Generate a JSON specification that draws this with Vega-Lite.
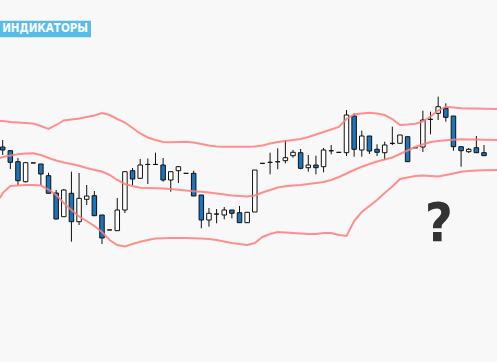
{
  "$schema": "https://vega.github.io/schema/vega-lite/v6.json",
  "width": 497,
  "height": 362,
  "autosize": {"type": "none"},
  "padding": 0,
  "background": "#f8f8f8",
  "config": {"view": {"stroke": null}},
  "datasets": {
    "candles": [
      {"t":0,"o":215,"c":212,"h":222,"l":207},
      {"t":1,"o":211.3,"c":199.7,"h":212,"l":193},
      {"t":2,"o":200.3,"c":181.3,"h":204,"l":177},
      {"t":3,"o":180.3,"c":199.3,"h":200,"l":179.5},
      {"t":4,"o":199.1,"c":199,"h":199.1,"l":199},
      {"t":5,"o":198,"c":188,"h":198,"l":177},
      {"t":6,"o":186.3,"c":168.7,"h":189.3,"l":168.7},
      {"t":7,"o":169,"c":143,"h":172,"l":142.5},
      {"t":8,"o":145.3,"c":172,"h":173,"l":145},
      {"t":9,"o":168.7,"c":140.3,"h":190.3,"l":120.3},
      {"t":10,"o":140.3,"c":163.7,"h":189,"l":137},
      {"t":11,"o":162.7,"c":166,"h":177,"l":157},
      {"t":12,"o":166.3,"c":146.3,"h":171,"l":146},
      {"t":13,"o":147,"c":124,"h":147,"l":118},
      {"t":14,"o":132.1,"c":132,"h":132.1,"l":132},
      {"t":15,"o":131.3,"c":152,"h":164,"l":131.3},
      {"t":16,"o":152,"c":190.3,"h":190.3,"l":149},
      {"t":17,"o":191.3,"c":183,"h":194,"l":177},
      {"t":18,"o":183.7,"c":197,"h":203,"l":183},
      {"t":19,"o":197.6,"c":197.5,"h":203.5,"l":178},
      {"t":20,"o":197.6,"c":197.5,"h":209.3,"l":197.5},
      {"t":21,"o":197,"c":182,"h":204,"l":180.3},
      {"t":22,"o":182,"c":190.3,"h":190.3,"l":170.3},
      {"t":23,"o":191.3,"c":195.3,"h":196,"l":179},
      {"t":24,"o":188.7,"c":188.6,"h":188.7,"l":188.6},
      {"t":25,"o":188.7,"c":166,"h":191.3,"l":166},
      {"t":26,"o":167,"c":142,"h":167,"l":133.7},
      {"t":27,"o":142,"c":148.7,"h":154,"l":135.3},
      {"t":28,"o":148,"c":147.9,"h":153,"l":138.7},
      {"t":29,"o":147,"c":152,"h":155,"l":142.7},
      {"t":30,"o":152,"c":148.7,"h":152,"l":143.7},
      {"t":31,"o":149.3,"c":139.3,"h":156,"l":139.3},
      {"t":32,"o":139.3,"c":149.7,"h":149.7,"l":139.3},
      {"t":33,"o":150,"c":192,"h":192,"l":150},
      {"t":34,"o":198.7,"c":198.6,"h":198.7,"l":198.6},
      {"t":35,"o":199.7,"c":199.6,"h":209.3,"l":187.7},
      {"t":36,"o":200.3,"c":200.2,"h":213.7,"l":192.7},
      {"t":37,"o":201.3,"c":204.3,"h":222,"l":198.7},
      {"t":38,"o":206.3,"c":209.7,"h":212,"l":204.3},
      {"t":39,"o":209.3,"c":193.7,"h":213,"l":192.7},
      {"t":40,"o":194.3,"c":197,"h":207,"l":190.3},
      {"t":41,"o":197,"c":194.3,"h":206.3,"l":187.7},
      {"t":42,"o":195.3,"c":212,"h":214,"l":189.7},
      {"t":43,"o":211.3,"c":211.2,"h":217,"l":207.7},
      {"t":44,"o":209.7,"c":209.6,"h":209.7,"l":209.6},
      {"t":45,"o":209.3,"c":247,"h":252,"l":206},
      {"t":46,"o":246,"c":212.7,"h":248.7,"l":205.3},
      {"t":47,"o":212,"c":226,"h":231.3,"l":205.3},
      {"t":48,"o":226,"c":211,"h":226,"l":208},
      {"t":49,"o":212.7,"c":209.7,"h":217.7,"l":206},
      {"t":50,"o":209.3,"c":217,"h":220.3,"l":202},
      {"t":51,"o":218.7,"c":218.6,"h":235.3,"l":217},
      {"t":52,"o":218.7,"c":227,"h":227,"l":218.7},
      {"t":53,"o":225.3,"c":200.3,"h":225.3,"l":200.3},
      {"t":54,"o":214.3,"c":214.2,"h":214.3,"l":214.2},
      {"t":55,"o":215,"c":242,"h":251.3,"l":210},
      {"t":56,"o":242.7,"c":242.6,"h":250.3,"l":227.7},
      {"t":57,"o":248.7,"c":255.3,"h":265.3,"l":242},
      {"t":58,"o":253.7,"c":244.7,"h":258.7,"l":240.3},
      {"t":59,"o":246,"c":215.3,"h":246,"l":211.3},
      {"t":60,"o":215.3,"c":211.3,"h":215.3,"l":195.3},
      {"t":61,"o":210.3,"c":212.7,"h":214,"l":209},
      {"t":62,"o":214.3,"c":209.3,"h":226,"l":209.3},
      {"t":63,"o":209.3,"c":206.3,"h":217,"l":206.3}
    ],
    "bands": [
      {"t":-0.35,"up":241,"mid":204,"lo":164},
      {"t":0,"up":241,"mid":205,"lo":169},
      {"t":1,"up":240,"mid":206.5,"lo":176},
      {"t":2,"up":239.5,"mid":207.7,"lo":176.5},
      {"t":3,"up":239,"mid":208.5,"lo":177},
      {"t":4,"up":238.5,"mid":208.7,"lo":177},
      {"t":5,"up":236,"mid":207,"lo":176.5},
      {"t":6,"up":233,"mid":204,"lo":172.5},
      {"t":7,"up":237,"mid":201.5,"lo":167},
      {"t":8,"up":241.5,"mid":199.5,"lo":159},
      {"t":9,"up":242.5,"mid":198,"lo":152},
      {"t":10,"up":243.5,"mid":196.3,"lo":145.5},
      {"t":11,"up":245,"mid":194,"lo":141},
      {"t":12,"up":246.5,"mid":192,"lo":136},
      {"t":13,"up":249,"mid":190.5,"lo":130},
      {"t":14,"up":247,"mid":187,"lo":122},
      {"t":15,"up":243,"mid":182,"lo":117},
      {"t":16,"up":239.5,"mid":178,"lo":115.5},
      {"t":17,"up":234,"mid":176,"lo":118},
      {"t":18,"up":228.5,"mid":174.3,"lo":120.3},
      {"t":19,"up":224.5,"mid":174,"lo":122},
      {"t":20,"up":222,"mid":173.7,"lo":123.5},
      {"t":21,"up":220,"mid":173.5,"lo":123.7},
      {"t":22,"up":219.7,"mid":173,"lo":124},
      {"t":23,"up":220,"mid":172.3,"lo":124},
      {"t":24,"up":220.3,"mid":171.5,"lo":124},
      {"t":25,"up":219.5,"mid":170.8,"lo":123.8},
      {"t":26,"up":218,"mid":170.2,"lo":123.5},
      {"t":27,"up":216.5,"mid":169.5,"lo":123},
      {"t":28,"up":215.5,"mid":168.5,"lo":122},
      {"t":29,"up":215.3,"mid":167.5,"lo":120.5},
      {"t":30,"up":215.3,"mid":166.5,"lo":119},
      {"t":31,"up":215.3,"mid":166,"lo":118},
      {"t":32,"up":215.3,"mid":165.5,"lo":117},
      {"t":33,"up":215.5,"mid":166.5,"lo":119},
      {"t":34,"up":216.5,"mid":169.5,"lo":125},
      {"t":35,"up":218.5,"mid":172,"lo":128},
      {"t":36,"up":220,"mid":174.5,"lo":130},
      {"t":37,"up":221,"mid":175.7,"lo":129.5},
      {"t":38,"up":222,"mid":176.5,"lo":129},
      {"t":39,"up":223,"mid":177,"lo":128.5},
      {"t":40,"up":225,"mid":178,"lo":128},
      {"t":41,"up":227.5,"mid":179,"lo":128},
      {"t":42,"up":230,"mid":180,"lo":129},
      {"t":43,"up":232.5,"mid":182,"lo":129},
      {"t":44,"up":235,"mid":185,"lo":127},
      {"t":45,"up":243,"mid":188.5,"lo":126},
      {"t":46,"up":247.5,"mid":192,"lo":141},
      {"t":47,"up":248.5,"mid":195.3,"lo":150},
      {"t":48,"up":249.3,"mid":198,"lo":156},
      {"t":49,"up":248.5,"mid":200.5,"lo":162},
      {"t":50,"up":247,"mid":202.5,"lo":169},
      {"t":51,"up":243,"mid":204.5,"lo":175.5},
      {"t":52,"up":237,"mid":208,"lo":183},
      {"t":53,"up":237.5,"mid":211.5,"lo":184.5},
      {"t":54,"up":238.3,"mid":215,"lo":186},
      {"t":55,"up":240.5,"mid":217.5,"lo":186.5},
      {"t":56,"up":245.5,"mid":220,"lo":186},
      {"t":57,"up":251.5,"mid":221,"lo":185.5},
      {"t":58,"up":255.3,"mid":221.7,"lo":187},
      {"t":59,"up":254.5,"mid":222.2,"lo":188.5},
      {"t":60,"up":253.7,"mid":222.7,"lo":190.3},
      {"t":61,"up":253.5,"mid":222.6,"lo":191},
      {"t":62,"up":253.4,"mid":222.4,"lo":191.5},
      {"t":63,"up":253.2,"mid":222.2,"lo":191.8},
      {"t":64.7,"up":253,"mid":222,"lo":192}
    ],
    "badge": [
      {"t0":-0.35,"t1":11.56,"p0":324.7,"p1":341.3,"tc":5.55,"pc":332.7,"label":"ИНДИКАТОРЫ"}
    ],
    "question": [
      {"t":57.1,"p":137,"label":"?"}
    ]
  },
  "layer": [
    {
      "data": {"name": "candles"},
      "mark": {"type": "rule", "color": "#111111", "strokeWidth": 1},
      "encoding": {
        "x": {"field": "t", "type": "quantitative", "scale": {"domain": [-0.35, 64.7], "nice": false, "zero": false, "padding": 0}, "axis": null},
        "y": {"field": "l", "type": "quantitative", "scale": {"domain": [0, 362], "nice": false, "zero": false, "padding": 0}, "axis": null},
        "y2": {"field": "h"}
      }
    },
    {
      "data": {"name": "candles"},
      "mark": {"type": "bar", "width": 4.5, "stroke": "#111111", "strokeWidth": 1},
      "encoding": {
        "x": {"field": "t", "type": "quantitative"},
        "y": {"field": "o", "type": "quantitative"},
        "y2": {"field": "c"},
        "fill": {"condition": {"test": "datum.o > datum.c", "value": "#1b75bc"}, "value": "#ffffff"}
      }
    },
    {
      "data": {"name": "bands"},
      "mark": {"type": "line", "color": "#ff7c7c", "strokeWidth": 2, "opacity": 0.85},
      "encoding": {"x": {"field": "t", "type": "quantitative"}, "y": {"field": "up", "type": "quantitative"}}
    },
    {
      "data": {"name": "bands"},
      "mark": {"type": "line", "color": "#ff7c7c", "strokeWidth": 2, "opacity": 0.85},
      "encoding": {"x": {"field": "t", "type": "quantitative"}, "y": {"field": "mid", "type": "quantitative"}}
    },
    {
      "data": {"name": "bands"},
      "mark": {"type": "line", "color": "#ff7c7c", "strokeWidth": 2, "opacity": 0.85},
      "encoding": {"x": {"field": "t", "type": "quantitative"}, "y": {"field": "lo", "type": "quantitative"}}
    },
    {
      "data": {"name": "badge"},
      "mark": {"type": "rect", "fill": "#58bde6"},
      "encoding": {
        "x": {"field": "t0", "type": "quantitative"}, "x2": {"field": "t1"},
        "y": {"field": "p0", "type": "quantitative"}, "y2": {"field": "p1"}
      }
    },
    {
      "data": {"name": "badge"},
      "mark": {"type": "text", "font": "DejaVu Sans Condensed", "fontWeight": "bold", "fontSize": 11.5, "color": "#ffffff", "align": "center", "baseline": "middle"},
      "encoding": {
        "x": {"field": "tc", "type": "quantitative"},
        "y": {"field": "pc", "type": "quantitative"},
        "text": {"field": "label"}
      }
    },
    {
      "data": {"name": "question"},
      "mark": {"type": "text", "font": "DejaVu Sans Condensed", "fontWeight": "bold", "fontSize": 54, "color": "#333333", "align": "center", "baseline": "middle"},
      "encoding": {
        "x": {"field": "t", "type": "quantitative"},
        "y": {"field": "p", "type": "quantitative"},
        "text": {"field": "label"}
      }
    }
  ]
}
